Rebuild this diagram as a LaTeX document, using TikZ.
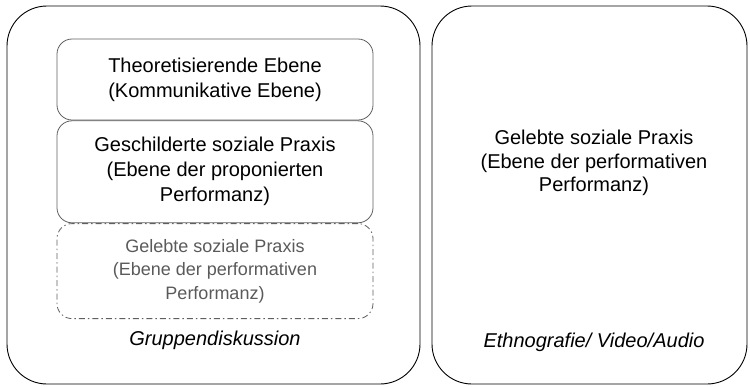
\documentclass[tikz,border=0pt]{standalone}
\usepackage{fontspec}
\setmainfont{Liberation Sans}
\usepackage{xcolor}
\usetikzlibrary{positioning}

\definecolor{framegray}{HTML}{5F5F5F}
\definecolor{softgray}{HTML}{5A5A5A}

\begin{document}
\begin{tikzpicture}[
    x=1pt, y=-1pt,
    node distance=0pt,
    outer/.style={draw, rounded corners=40pt, line width=0.9pt, inner sep=0pt},
    level/.style={draw=framegray, rounded corners=15pt, line width=0.8pt, minimum width=316pt, align=center, inner sep=0pt, font=\fontsize{20}{25}\selectfont},
    lived/.style={level, dash pattern=on 6pt off 3pt on 1.5pt off 3pt, text=softgray, font=\fontsize{18}{23.5}\selectfont},
    method/.style={font=\fontsize{20}{24}\selectfont\itshape}
]
    \useasboundingbox (0,0) rectangle (750,386);

    \node[outer, minimum width=413pt, minimum height=378pt] (grp) at (213.5,195) {};
    \node[outer, minimum width=315pt, minimum height=378pt] (eth) at (589.5,195) {};

    \node[level, minimum height=81pt] (theo) at (215,79.5) {Theoretisierende Ebene\\(Kommunikative Ebene)};
    \node[level, minimum height=102pt, below=of theo] (told) {Geschilderte soziale Praxis\\(Ebene der proponierten\\Performanz)};
    \node[lived, minimum height=95pt, below=of told] (livedA) {Gelebte soziale Praxis\\(Ebene der performativen\\Performanz)};
    \node[method, below=21pt of livedA.south, anchor=center] (grplabel) {Gruppendiskussion};

    \node[align=center, font=\fontsize{20}{23.5}\selectfont] (livedB) at (594,163) {Gelebte soziale Praxis\\(Ebene der performativen\\Performanz)};
    \node[method] (ethlabel) at (594,342) {Ethnografie/ Video/Audio};
\end{tikzpicture}
\end{document}
